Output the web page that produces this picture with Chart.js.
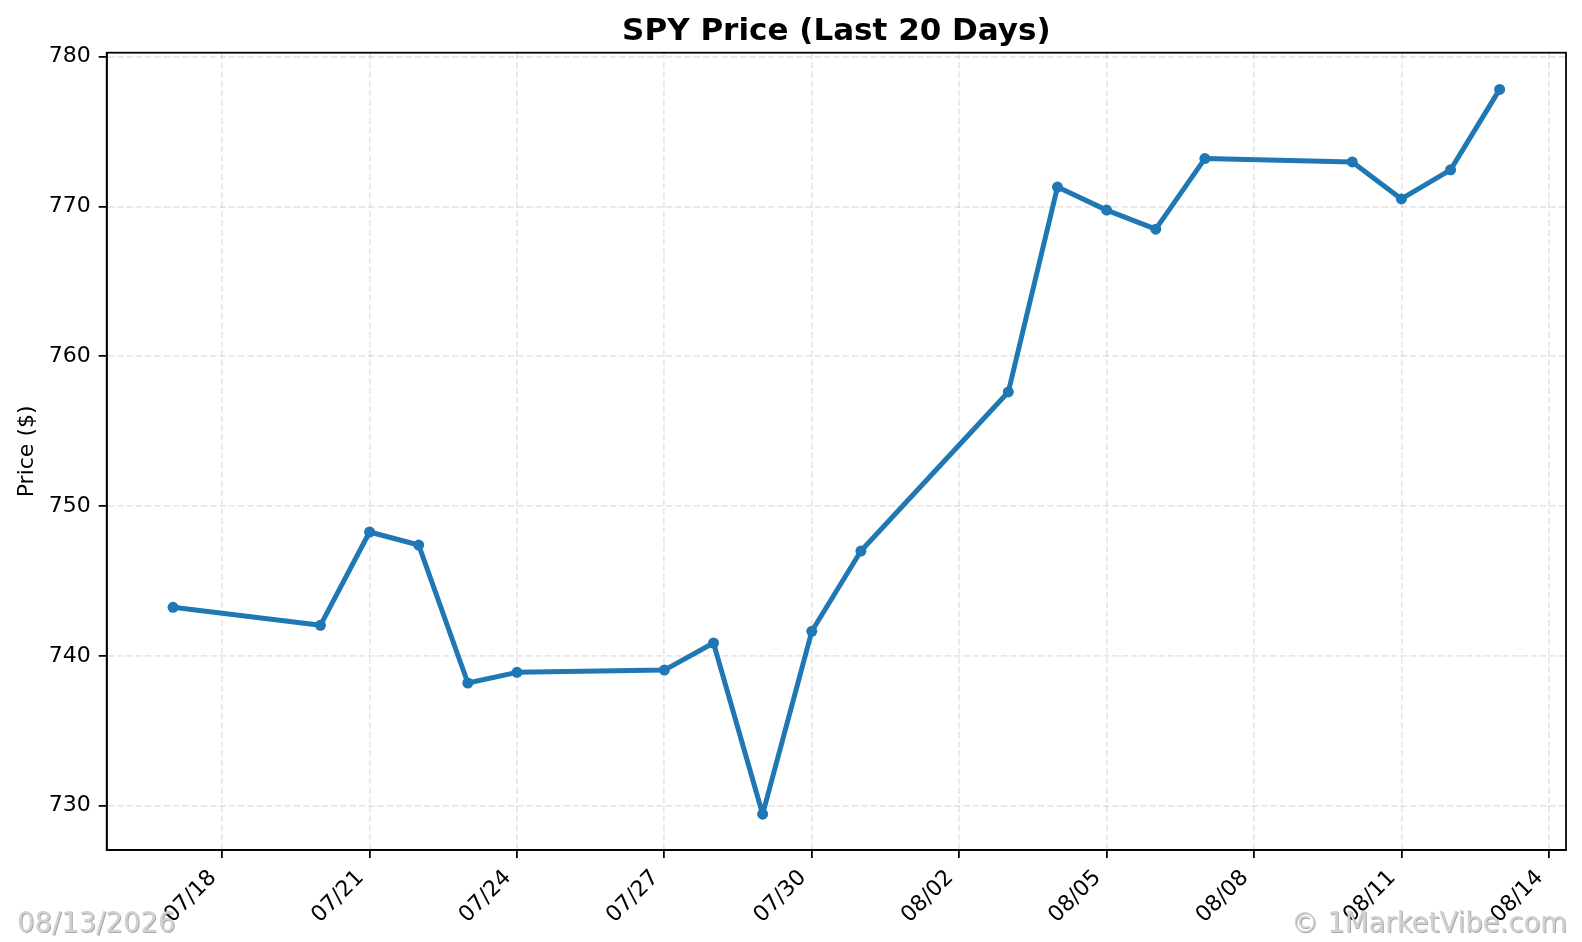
<!DOCTYPE html>
<html>
<head>
<meta charset="utf-8">
<script src="https://cdn.jsdelivr.net/npm/chart.js@4.4.1/dist/chart.umd.min.js"></script>
<style>
  html, body { margin: 0; padding: 0; background: #ffffff; }
  #wrap { position: relative; width: 1582px; height: 942px; }
  canvas { display: block; }
</style>
</head>
<body>
<div id="wrap"><canvas id="c" width="1582" height="942"></canvas></div>
<script>
// ---- data ----
const dates = ["07/17","07/20","07/21","07/22","07/23","07/24","07/27","07/28","07/29","07/30",
               "07/31","08/03","08/04","08/05","08/06","08/07","08/10","08/11","08/12","08/13"];
const dayOffsets = [0, 3, 4, 5, 6, 7, 10, 11, 12, 13, 14, 17, 18, 19, 20, 21, 24, 25, 26, 27]; // days since 07/17
const prices = [743.24, 742.04, 748.27, 747.40, 738.19, 738.90, 739.05, 740.86, 729.43, 741.64,
                747.00, 757.62, 771.30, 769.76, 768.49, 773.20, 772.98, 770.51, 772.45, 777.82];
const xTickDays = [1, 4, 7, 10, 13, 16, 19, 22, 25, 28];
const xTickLabels = ["07/18","07/21","07/24","07/27","07/30","08/02","08/05","08/08","08/11","08/14"];
const yTicks = [730, 740, 750, 760, 770, 780];
const titleText = "SPY Price (Last 20 Days)";
const yLabel = "Price ($)";
const dateStamp = "08/13/2026";
const credit = "© 1MarketVibe.com";

const points = dayOffsets.map((d, i) => ({ x: d, y: prices[i] }));
const FONT = "'DejaVu Sans', sans-serif";
const LINE = '#1f77b4';

const frameAndText = {
  id: 'frameAndText',
  afterDraw(chart) {
    const ctx = chart.ctx;
    const a = chart.chartArea;
    ctx.save();
    // frame
    ctx.strokeStyle = '#000000';
    ctx.lineWidth = 1.76;
    ctx.strokeRect(a.left, a.top, a.right - a.left, a.bottom - a.top);
    // title
    ctx.fillStyle = '#000000';
    ctx.font = "bold 31px " + FONT;
    ctx.textAlign = 'center';
    ctx.textBaseline = 'alphabetic';
    ctx.fillText(titleText, (a.left + a.right) / 2, 39.5);
    // y label
    ctx.save();
    ctx.translate(27, (a.top + a.bottom) / 2);
    ctx.rotate(-Math.PI / 2);
    ctx.font = "22px " + FONT;
    ctx.textAlign = 'center';
    ctx.textBaseline = 'middle';
    ctx.fillText(yLabel, 0, 0);
    ctx.restore();
    // watermarks
    ctx.font = "27.5px " + FONT;
    ctx.textBaseline = 'alphabetic';
    ctx.shadowColor = 'rgba(110,110,110,0.6)';
    ctx.shadowOffsetX = 1;
    ctx.shadowOffsetY = 1;
    ctx.shadowBlur = 0;
    ctx.fillStyle = '#d2d2d2';
    ctx.textAlign = 'left';
    ctx.fillText(dateStamp, 17, 932);
    ctx.textAlign = 'right';
    ctx.fillText(credit, 1567, 932);
    ctx.restore();
  }
};

function noPad(s) {
  s.paddingLeft = 0; s.paddingRight = 0; s.paddingTop = 0; s.paddingBottom = 0;
}

new Chart(document.getElementById('c'), {
  type: 'line',
  data: {
    datasets: [{
      data: points,
      borderColor: LINE,
      backgroundColor: LINE,
      borderWidth: 5,
      borderJoinStyle: 'round',
      borderCapStyle: 'round',
      pointRadius: 5.5,
      pointHoverRadius: 5.5,
      pointBackgroundColor: LINE,
      pointBorderWidth: 0,
      tension: 0,
      fill: false
    }]
  },
  options: {
    responsive: false,
    animation: false,
    devicePixelRatio: 1,
    layout: { padding: { left: 0, top: 52.7, right: 16, bottom: 0 } },
    plugins: { legend: { display: false }, title: { display: false }, tooltip: { enabled: false } },
    scales: {
      x: {
        type: 'linear',
        min: -1.35,
        max: 28.35,
        afterBuildTicks: (s) => { s.ticks = xTickDays.map(v => ({ value: v })); },
        afterFit: (s) => { s.height = 92; noPad(s); },
        grid: {
          color: 'rgba(176,176,176,0.3)',
          lineWidth: 1.76,
          tickColor: '#000000',
          tickWidth: 1.76,
          tickLength: 8,
          drawTicks: true
        },
        border: { display: true, color: '#000000', width: 1.76, dash: [6.5, 2.8] },
        ticks: {
          autoSkip: false,
          minRotation: 45,
          maxRotation: 45,
          padding: 7,
          labelOffset: -9,
          color: '#000000',
          font: { family: FONT, size: 22 },
          callback: (v) => { const i = xTickDays.indexOf(v); return i >= 0 ? xTickLabels[i] : ''; }
        }
      },
      y: {
        type: 'linear',
        min: 727.04,
        max: 780.27,
        afterBuildTicks: (s) => { s.ticks = yTicks.map(v => ({ value: v })); },
        afterFit: (s) => { s.width = 106.7; noPad(s); },
        grid: {
          color: 'rgba(176,176,176,0.3)',
          lineWidth: 1.76,
          tickColor: '#000000',
          tickWidth: 1.76,
          tickLength: 8,
          drawTicks: true
        },
        border: { display: true, color: '#000000', width: 1.76, dash: [6.5, 2.8] },
        ticks: {
          padding: 8,
          color: '#000000',
          font: { family: FONT, size: 22 },
          callback: (v) => String(v)
        }
      }
    }
  },
  plugins: [frameAndText]
});
</script>
</body>
</html>
